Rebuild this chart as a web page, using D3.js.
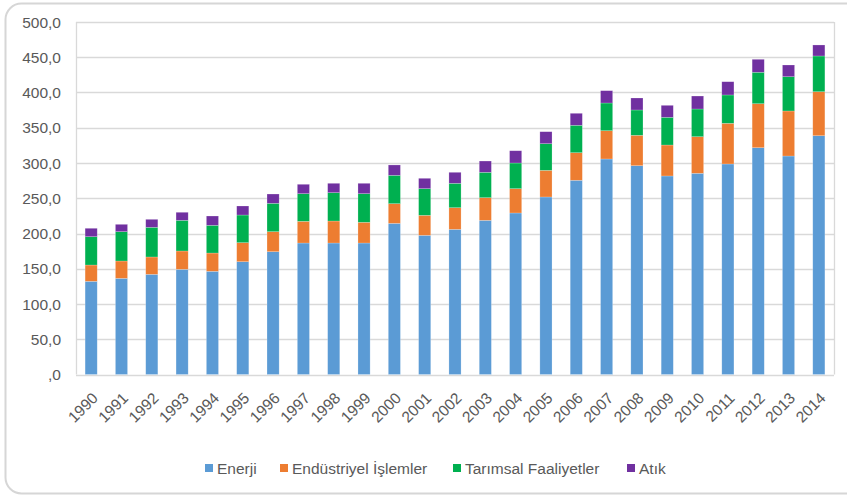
<!DOCTYPE html>
<html>
<head>
<meta charset="utf-8">
<script src="https://cdn.jsdelivr.net/npm/d3@7"></script>
<style>
  body { margin: 0; background: #fff; }
  text { font-family: "Liberation Sans", Arial, sans-serif; }
</style>
</head>
<body>
<div id="chart"></div>
<script>
// ============= Data =============
const years = ["1990", "1991", "1992", "1993", "1994", "1995", "1996", "1997", "1998", "1999",
  "2000", "2001", "2002", "2003", "2004", "2005", "2006", "2007", "2008", "2009",
  "2010", "2011", "2012", "2013", "2014"];

const enerji = [132.2, 136.4, 142.1, 149.2, 146.4, 160.0, 174.2, 186.5, 186.5, 186.5,
  214.4, 197.4, 205.9, 218.7, 229.1, 251.8, 275.5, 305.7, 296.2, 281.6,
  285.4, 298.6, 321.7, 309.9, 338.7];
const endustriyel = [23.1, 24.6, 24.6, 26.0, 25.9, 27.0, 28.4, 30.8, 31.2, 29.4,
  27.9, 28.4, 30.7, 32.1, 34.5, 37.8, 39.1, 40.1, 43.1, 43.9,
  51.9, 57.7, 62.4, 63.9, 62.4];
const tarimsal = [40.2, 41.6, 42.1, 43.5, 39.3, 39.2, 40.2, 39.2, 40.2, 40.6,
  40.2, 37.8, 34.6, 36.0, 36.4, 37.8, 38.9, 39.3, 35.9, 39.3,
  39.3, 40.2, 44.6, 48.6, 50.7];
const atik = [11.9, 10.4, 11.3, 11.4, 13.2, 12.8, 13.2, 13.3, 13.3, 14.7,
  14.7, 14.7, 15.6, 16.0, 17.4, 17.0, 17.0, 17.5, 17.0, 17.0,
  18.4, 18.8, 18.4, 16.6, 15.6];

const seriesNames = ["Enerji", "Endüstriyel İşlemler", "Tarımsal Faaliyetler", "Atık"];
const seriesColors = ["#5B9BD5", "#ED7D31", "#00B050", "#7030A0"];
const yTicks = [0, 50, 100, 150, 200, 250, 300, 350, 400, 450, 500];

const width = 847;
const height = 496;
const margin = { top: 22, right: 13, bottom: 121.5, left: 76 };

// table for d3.stack
const rows = years.map((y, i) => ({
  year: y,
  [seriesNames[0]]: enerji[i],
  [seriesNames[1]]: endustriyel[i],
  [seriesNames[2]]: tarimsal[i],
  [seriesNames[3]]: atik[i]
}));
const stacked = d3.stack().keys(seriesNames)(rows);

const svg = d3.select('#chart')
  .append('svg')
  .attr('width', width)
  .attr('height', height);

// outer chart frame
svg.append('rect')
  .attr('x', 5.5).attr('y', 3.5)
  .attr('width', 860).attr('height', 490)
  .attr('rx', 16)
  .attr('fill', '#fff')
  .attr('stroke', '#d6d6d6')
  .attr('stroke-width', 2);

const x = d3.scaleBand()
  .domain(years)
  .range([margin.left, width - margin.right])
  .paddingInner(0.6)
  .paddingOuter(0.3);

const y = d3.scaleLinear()
  .domain([0, 500])
  .range([height - margin.bottom, margin.top]);

// gridlines
svg.append('g')
  .selectAll('line')
  .data(yTicks)
  .join('line')
  .attr('x1', margin.left)
  .attr('x2', width - margin.right)
  .attr('y1', d => Math.round(y(d)) + 0.5)
  .attr('y2', d => Math.round(y(d)) + 0.5)
  .attr('stroke', '#d9d9d9')
  .attr('stroke-width', 1.3);

// plot area side borders
svg.append('g')
  .selectAll('line')
  .data([margin.left, width - margin.right])
  .join('line')
  .attr('x1', d => d + 0.5).attr('x2', d => d + 0.5)
  .attr('y1', y(500)).attr('y2', y(0))
  .attr('stroke', '#d9d9d9')
  .attr('stroke-width', 1.3);

// bars, with a thin light edge like the original
svg.append('g')
  .selectAll('g')
  .data(stacked)
  .join('g')
  .attr('fill', (d, i) => seriesColors[i])
  .selectAll('rect')
  .data(d => d)
  .join('rect')
  .attr('x', d => x(d.data.year))
  .attr('width', x.bandwidth())
  .attr('y', d => y(d[1]))
  .attr('height', d => y(d[0]) - y(d[1]))
  .attr('stroke', 'rgba(255,255,255,0.35)')
  .attr('stroke-width', 0.6);

// y axis labels
const fmt = v => v === 0 ? ",0" : d3.format(".1f")(v).replace(".", ",");
svg.append('g')
  .selectAll('text')
  .data(yTicks)
  .join('text')
  .attr('x', 61)
  .attr('y', d => y(d))
  .attr('dy', '0.36em')
  .attr('text-anchor', 'end')
  .attr('fill', '#595959')
  .style('font-size', '15.5px')
  .text(fmt);

// x axis labels
svg.append('g')
  .selectAll('text')
  .data(years)
  .join('text')
  .attr('transform', d => `translate(${x(d) + x.bandwidth() / 2}, ${y(0) + 17}) rotate(-45)`)
  .attr('text-anchor', 'end')
  .attr('dy', '0.7em')
  .attr('fill', '#595959')
  .style('font-size', '15.5px')
  .text(d => d);

// legend
const legendX = [205, 280, 453, 627];
const legend = svg.append('g')
  .selectAll('g')
  .data(seriesNames)
  .join('g')
  .attr('transform', (d, i) => `translate(${legendX[i]}, 468)`);
legend.append('rect')
  .attr('x', 0).attr('y', -4)
  .attr('width', 8).attr('height', 8)
  .attr('fill', (d, i) => seriesColors[i]);
legend.append('text')
  .attr('x', 12)
  .attr('dy', '0.36em')
  .attr('fill', '#595959')
  .style('font-size', '15.5px')
  .text(d => d);
</script>
</body>
</html>
